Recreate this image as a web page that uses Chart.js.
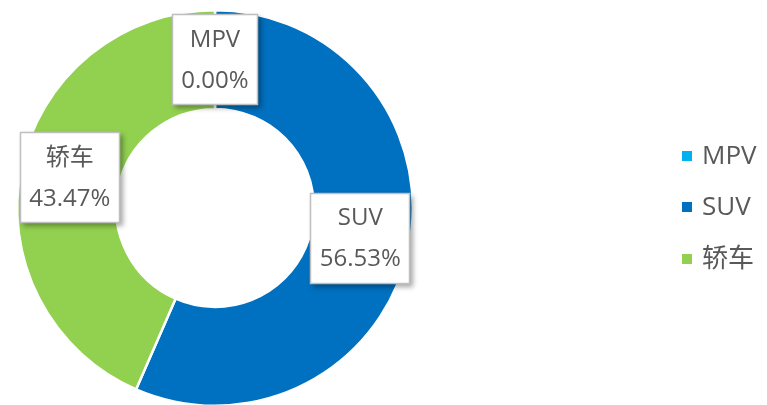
<!DOCTYPE html>
<html>
<head>
<meta charset="utf-8">
<script src="https://cdn.jsdelivr.net/npm/chart.js@4/dist/chart.umd.min.js"></script>
<style>
  html, body { margin: 0; padding: 0; background: #fff; overflow: hidden; }
  #wrap { position: relative; width: 767px; height: 420px; }
</style>
</head>
<body>
<div id="wrap"><canvas id="c"></canvas></div>
<script>
const categories = ['MPV', 'SUV', '轿车'];
const shares = [0.00, 56.53, 43.47];
const colors = ['#00B0F0', '#0070C0', '#92D050'];

const FONT = '"Open Sans", "Noto Sans CJK SC", sans-serif';
const TEXT_COLOR = '#595959';

const labelBoxes = {
  id: 'labelBoxes',
  afterDatasetsDraw(chart) {
    const ctx = chart.ctx;
    const meta = chart.getDatasetMeta(0);
    const ds = chart.data.datasets[0];
    ctx.save();
    ctx.font = '24px ' + FONT;
    meta.data.forEach((arc, i) => {
      const p = arc.tooltipPosition();
      const l1 = chart.data.labels[i];
      const l2 = ds.data[i].toFixed(2) + '%';
      const tw = Math.max(ctx.measureText(l1).width, ctx.measureText(l2).width);
      const w = Math.round(tw + 19);
      const h = 91;
      const x = Math.round(p.x - w / 2);
      const y = Math.round(p.y - h / 2);
      ctx.save();
      ctx.shadowColor = 'rgba(0,0,0,0.35)';
      ctx.shadowBlur = 5;
      ctx.shadowOffsetX = 3;
      ctx.shadowOffsetY = 3;
      ctx.fillStyle = '#ffffff';
      ctx.fillRect(x, y, w, h);
      ctx.restore();
      ctx.strokeStyle = '#BFBFBF';
      ctx.lineWidth = 1.5;
      ctx.strokeRect(x + 0.5, y + 0.5, w - 1, h - 1);
      ctx.fillStyle = TEXT_COLOR;
      ctx.textAlign = 'center';
      ctx.textBaseline = 'middle';
      ctx.fillText(l1, p.x, p.y - 20);
      ctx.fillText(l2, p.x, p.y + 21);
    });
    ctx.restore();
  }
};

const sideLegend = {
  id: 'sideLegend',
  afterDraw(chart) {
    const ctx = chart.ctx;
    const ds = chart.data.datasets[0];
    const ys = [156, 207, 259];
    ctx.save();
    ctx.font = '26px ' + FONT;
    ctx.textAlign = 'left';
    ctx.textBaseline = 'middle';
    chart.data.labels.forEach((lab, i) => {
      ctx.fillStyle = ds.backgroundColor[i];
      ctx.fillRect(682, ys[i] - 5, 10, 10);
      ctx.fillStyle = TEXT_COLOR;
      ctx.fillText(lab, 702, ys[i] + 1);
    });
    ctx.restore();
  }
};

new Chart(document.getElementById('c'), {
  type: 'doughnut',
  data: {
    labels: categories,
    datasets: [{
      data: shares,
      backgroundColor: colors,
      borderColor: '#ffffff',
      borderWidth: 2.5,
      hoverOffset: 0
    }]
  },
  options: {
    responsive: true,
    maintainAspectRatio: false,
    animation: false,
    cutout: '50%',
    layout: { padding: { left: 16, top: 9, right: 353, bottom: 13 } },
    plugins: {
      legend: { display: false },
      tooltip: { enabled: false }
    }
  },
  plugins: [labelBoxes, sideLegend]
});
</script>
</body>
</html>
